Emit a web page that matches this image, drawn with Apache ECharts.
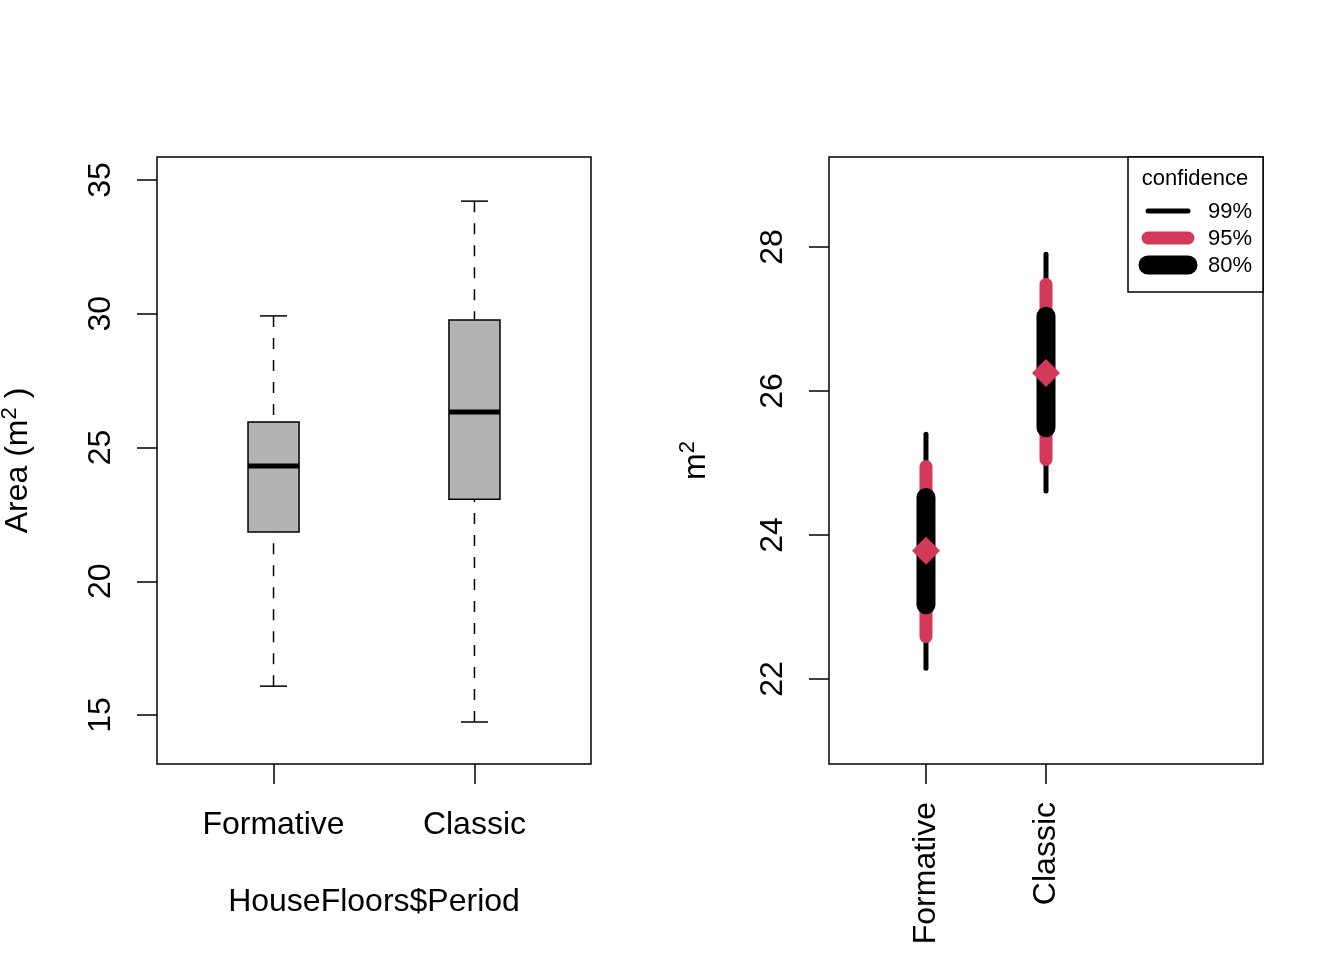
<!DOCTYPE html>
<html>
<head>
<meta charset="utf-8">
<script src="https://cdn.jsdelivr.net/npm/echarts@6/dist/echarts.min.js"></script>
<style>
  html, body { margin: 0; padding: 0; background: #fff; }
  #chart { width: 1344px; height: 960px; }
</style>
</head>
<body>
<div id="chart"></div>
<script>
// categories
const periods = ['Formative', 'Classic'];

// boxplot stats (left panel)
const whiskLow = [16.08, 14.74];
const hingeLow = [21.84, 23.07];
const medians = [24.31, 26.33];
const hingeHigh = [25.95, 29.77];
const whiskHigh = [29.92, 34.21];
const areaTicks = [15, 20, 25, 30, 35];

// confidence intervals of the mean (right panel), [low, high]
const means = [23.78, 26.25];
const ci99 = [[22.15, 25.40], [24.61, 27.90]];
const ci95 = [[22.59, 24.95], [25.05, 27.48]];
const ci80 = [[23.03, 24.52], [25.49, 27.04]];
const ciTicks = [22, 24, 26, 28];
const ciLevels = ['99%', '95%', '80%'];

const FONT = '"Liberation Sans", Arial, sans-serif';
const FS = 32;
const RED = '#D5395A';
const ciWidths = [5, 13, 19];
const ciColors = ['#000', RED, '#000'];

const chart = echarts.init(document.getElementById('chart'));

const tick = vals => ({ length: 20, lineStyle: { color: '#000', width: 1.5 }, customValues: vals });

function baseAxis() {
  return {
    type: 'value',
    axisLine: { show: false },
    splitLine: { show: false },
    nameTextStyle: { color: '#000', fontSize: FS, fontFamily: FONT }
  };
}

function renderBox(params, api) {
  const x = api.value(0);
  const p = v => api.coord([x, v]);
  const hw = 0.127, cw = 0.067;
  const lo = p(api.value(1)), h1 = p(api.value(2)), md = p(api.value(3));
  const h3 = p(api.value(4)), hi = p(api.value(5));
  const left = api.coord([x - hw, 0])[0], right = api.coord([x + hw, 0])[0];
  const cl = api.coord([x - cw, 0])[0], cr = api.coord([x + cw, 0])[0];
  const dash = { stroke: '#000', lineWidth: 1.5, lineDash: [11, 11] };
  const solid = { stroke: '#000', lineWidth: 1.5 };
  return {
    type: 'group',
    children: [
      { type: 'line', shape: { x1: hi[0], y1: hi[1], x2: h3[0], y2: h3[1] }, style: dash },
      { type: 'line', shape: { x1: lo[0], y1: lo[1], x2: h1[0], y2: h1[1] }, style: dash },
      { type: 'line', shape: { x1: cl, y1: hi[1], x2: cr, y2: hi[1] }, style: solid },
      { type: 'line', shape: { x1: cl, y1: lo[1], x2: cr, y2: lo[1] }, style: solid },
      { type: 'rect', shape: { x: left, y: h3[1], width: right - left, height: h1[1] - h3[1] },
        style: { fill: '#B3B3B3', stroke: '#000', lineWidth: 1.5 } },
      { type: 'line', shape: { x1: left, y1: md[1], x2: right, y2: md[1] },
        style: { stroke: '#000', lineWidth: 5 } }
    ]
  };
}

function renderCi(params, api) {
  const x = api.value(0);
  const children = [];
  for (let k = 0; k < 3; k++) {
    const a = api.coord([x, api.value(2 + 2 * k)]);
    const b = api.coord([x, api.value(3 + 2 * k)]);
    children.push({
      type: 'line',
      shape: { x1: a[0], y1: a[1], x2: b[0], y2: b[1] },
      style: { stroke: ciColors[k], lineWidth: ciWidths[k], lineCap: 'round' }
    });
  }
  const m = api.coord([x, api.value(1)]);
  const r = 14;
  children.push({
    type: 'polygon',
    shape: { points: [[m[0], m[1] - r], [m[0] + r, m[1]], [m[0], m[1] + r], [m[0] - r, m[1]]] },
    style: { fill: RED }
  });
  return { type: 'group', children: children };
}

// legend drawn as graphic
const legendItems = [];
legendItems.push({ type: 'rect', shape: { x: 1128, y: 157, width: 135, height: 135 },
  style: { fill: '#fff', stroke: '#000', lineWidth: 1.5 }, z: 10 });
legendItems.push({ type: 'text', x: 1195, y: 179, z: 11,
  style: { text: 'confidence', fill: '#000', font: '22px ' + FONT, align: 'center', verticalAlign: 'middle' } });
ciLevels.forEach((lab, k) => {
  const y = 211 + k * 27;
  legendItems.push({ type: 'line', z: 11, shape: { x1: 1148, y1: y, x2: 1188, y2: y },
    style: { stroke: ciColors[k], lineWidth: ciWidths[k], lineCap: 'round' } });
  legendItems.push({ type: 'text', x: 1208, y: y + 1, z: 11,
    style: { text: lab, fill: '#000', font: '22px ' + FONT, align: 'left', verticalAlign: 'middle' } });
});

const supRich = {
  a: { fontSize: FS, fontFamily: FONT, color: '#000' },
  s: { fontSize: 22, fontFamily: FONT, color: '#000', padding: [0, 0, 17, 0] }
};

const option = {
  animation: false,
  backgroundColor: '#fff',
  grid: [
    { left: 157, top: 157, width: 434, height: 607, show: true, borderColor: '#000', borderWidth: 1.5,
      containLabel: false, outerBoundsMode: 'none' },
    { left: 829, top: 157, width: 434, height: 607, show: true, borderColor: '#000', borderWidth: 1.5,
      containLabel: false, outerBoundsMode: 'none' }
  ],
  xAxis: [
    Object.assign(baseAxis(), {
      gridIndex: 0, min: 0.42, max: 2.58,
      name: 'HouseFloors$Period', nameLocation: 'middle', nameGap: 122,
      axisTick: tick([1, 2]),
      axisLabel: { color: '#000', fontSize: FS, fontFamily: FONT, margin: 45,
        customValues: [1, 2], formatter: v => periods[Math.round(v) - 1] }
    }),
    Object.assign(baseAxis(), {
      gridIndex: 1, min: 0.192, max: 3.808,
      axisTick: tick([1, 2]),
      axisLabel: { color: '#000', fontSize: FS, fontFamily: FONT, margin: 38, rotate: 90,
        customValues: [1, 2], formatter: v => periods[Math.round(v) - 1] }
    })
  ],
  yAxis: [
    Object.assign(baseAxis(), {
      gridIndex: 0, min: 13.17, max: 35.86,
      name: '{a|Area (m}{s|2}{a| )}', nameLocation: 'middle', nameGap: 119,
      nameTextStyle: { rich: supRich },
      axisTick: tick(areaTicks),
      axisLabel: { color: '#000', fontSize: FS, fontFamily: FONT, rotate: 90, margin: 40,
        customValues: areaTicks }
    }),
    Object.assign(baseAxis(), {
      gridIndex: 1, min: 20.82, max: 29.25,
      name: '{a|m}{s|2}', nameLocation: 'middle', nameGap: 113,
      nameTextStyle: { rich: supRich },
      axisTick: tick(ciTicks),
      axisLabel: { color: '#000', fontSize: FS, fontFamily: FONT, rotate: 90, margin: 40,
        customValues: ciTicks }
    })
  ],
  series: [
    {
      type: 'custom', xAxisIndex: 0, yAxisIndex: 0,
      renderItem: renderBox,
      data: periods.map((p, i) => [i + 1, whiskLow[i], hingeLow[i], medians[i], hingeHigh[i], whiskHigh[i]])
    },
    {
      type: 'custom', xAxisIndex: 1, yAxisIndex: 1,
      renderItem: renderCi,
      data: periods.map((p, i) => [i + 1, means[i], ci99[i][0], ci99[i][1], ci95[i][0], ci95[i][1], ci80[i][0], ci80[i][1]])
    }
  ],
  graphic: legendItems
};

chart.setOption(option);
</script>
</body>
</html>
